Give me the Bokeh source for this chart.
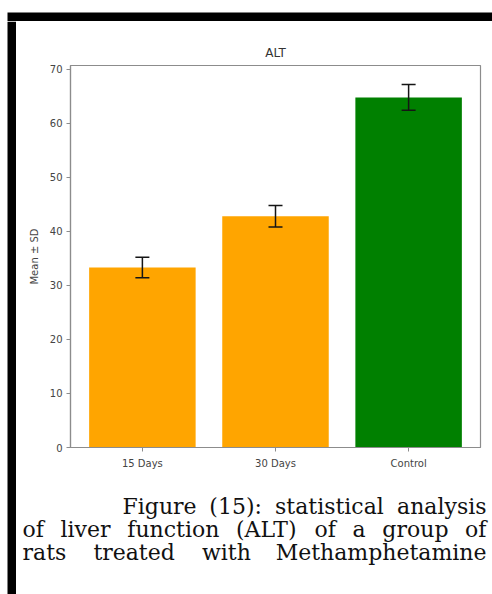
from bokeh.plotting import figure
from bokeh.layouts import column, row
from bokeh.models import (Range1d, FixedTicker, Whisker, TeeHead, ColumnDataSource)
from bokeh.core.properties import value
from bokeh.embed import file_html
from bokeh.resources import INLINE

# ---- data ----
categories = ["15 Days", "30 Days", "Control"]
means = [33.3, 42.8, 64.8]
sds = [1.9, 2.0, 2.4]
bar_colors = ["#FFA500", "#FFA500", "#008000"]
y_ticks = [0, 10, 20, 30, 40, 50, 60, 70]
chart_title = "ALT"
y_label = "Mean \u00b1 SD"
caption_lines = [
    "Figure (15): statistical analysis",
    "of liver function (ALT) of a group of",
    "rats treated with Methamphetamine",
]

# ---- page layout (pixels) ----
W, H = 492, 594
BAND_L0, BAND_L1 = 7, 16      # left black band
BAND_T0, BAND_T1 = 12, 21     # top black band
CHART_BOTTOM = 480            # page y where chart figure ends, caption starts
FL, FR, FT, FB = 70, 480, 65, 447   # chart frame edges in page pixels


def blank(width, height, x0, y0):
    return figure(width=width, height=height, output_backend="svg", toolbar_location=None,
                  x_range=Range1d(x0, x0 + width), y_range=Range1d(y0 + height, y0),
                  x_axis_type=None, y_axis_type=None, min_border=0,
                  outline_line_color=None, background_fill_color="white",
                  border_fill_color="white")


top_strip = blank(W, BAND_T1, 0, 0)
top_strip.quad(left=[BAND_L0], right=[W], top=[BAND_T0], bottom=[BAND_T1],
               fill_color="black", line_color=None)
left_strip = blank(BAND_L1, H - BAND_T1, 0, BAND_T1)
left_strip.quad(left=[BAND_L0], right=[BAND_L1], top=[BAND_T1], bottom=[H],
                fill_color="black", line_color=None)

# ---- chart ----
xs = list(range(len(categories)))
src = ColumnDataSource(dict(
    x=xs, top=means, color=bar_colors,
    lower=[m - s for m, s in zip(means, sds)],
    upper=[m + s for m, s in zip(means, sds)],
))

cw = W - BAND_L1
ch = CHART_BOTTOM - BAND_T1
p = figure(width=cw, height=ch, output_backend="svg", toolbar_location=None,
           x_range=Range1d(-0.54, 2.54), y_range=Range1d(0, 70.7),
           min_border_left=FL - BAND_L1, min_border_right=W - FR,
           min_border_top=FT - BAND_T1, min_border_bottom=CHART_BOTTOM - FB,
           background_fill_color="white", border_fill_color="white")

p.vbar(x="x", top="top", bottom=0, width=0.8, fill_color="color",
       line_color=None, source=src)

ecol = "#151515"
p.add_layout(Whisker(base="x", upper="upper", lower="lower", source=src, level="overlay",
                     upper_head=TeeHead(size=14, line_width=1.5, line_color=ecol),
                     lower_head=TeeHead(size=14, line_width=1.5, line_color=ecol),
                     line_width=1.5, line_color=ecol))

p.title.text = chart_title
p.title.align = "center"
p.title.text_font = "DejaVu Sans"
p.title.text_font_size = "12px"
p.title.text_font_style = "normal"
p.title.text_color = "#333333"
p.title.standoff = 11

gray = "#8c8c8c"
p.outline_line_color = gray
p.outline_line_width = 1.2
p.xgrid.visible = False
p.ygrid.visible = False
for ax in (p.xaxis[0], p.yaxis[0]):
    ax.axis_line_color = gray
    ax.axis_line_width = 1.2
    ax.major_tick_line_color = gray
    ax.major_tick_out = 4
    ax.major_tick_in = 0
    ax.minor_tick_line_color = None
    ax.major_label_text_font = "DejaVu Sans"
    ax.major_label_text_font_size = "10px"
    ax.major_label_text_color = "#444444"

p.yaxis.ticker = FixedTicker(ticks=y_ticks)
p.yaxis.major_label_standoff = 4
p.yaxis.axis_label = y_label
p.yaxis.axis_label_text_font = "DejaVu Sans"
p.yaxis.axis_label_text_font_size = "10px"
p.yaxis.axis_label_text_font_style = "normal"
p.yaxis.axis_label_text_color = "#444444"
p.yaxis.axis_label_standoff = 7

p.xaxis.ticker = FixedTicker(ticks=xs)
p.xaxis.major_label_overrides = {i: c for i, c in zip(xs, categories)}
p.xaxis.major_label_standoff = 6

# ---- caption (justified word by word, page pixel coordinates) ----
cap = blank(cw, H - CHART_BOTTOM, BAND_L1, CHART_BOTTOM)

# DejaVu Serif advance widths (em)
CWID = {"(": 0.390, ")": 0.390, ":": 0.337, "1": 0.636, "5": 0.636,
        "A": 0.722, "F": 0.674, "L": 0.637, "M": 0.920, "T": 0.674,
        "a": 0.596, "c": 0.560, "d": 0.640, "e": 0.592, "f": 0.370, "g": 0.640,
        "h": 0.644, "i": 0.320, "l": 0.320, "m": 0.948, "n": 0.644, "o": 0.602,
        "p": 0.640, "r": 0.478, "s": 0.513, "t": 0.402, "u": 0.644, "v": 0.565,
        "w": 0.856, "y": 0.565}
FS = 22
line_left = [122, 22, 22]
line_right = 486
baselines = [506, 529, 552]

lx_l, ly_l, lt_l, lx_r, ly_r, lt_r = [], [], [], [], [], []
for line, lx, by in zip(caption_lines, line_left, baselines):
    words = line.split(" ")
    widths = [sum(CWID.get(c, 0.6) for c in w) * FS for w in words]
    gap = (line_right - lx - sum(widths)) / (len(words) - 1)
    x = lx
    for i, (w, wd) in enumerate(zip(words, widths)):
        if i == len(words) - 1:
            lx_r.append(line_right); ly_r.append(by); lt_r.append(w)
        else:
            lx_l.append(x); ly_l.append(by); lt_l.append(w)
        x += wd + gap

cap.text(x=lx_l, y=ly_l, text=lt_l, text_align="left", text_baseline="alphabetic",
         text_font=value("DejaVu Serif"), text_font_size=f"{FS}px", text_color="#111111")
cap.text(x=lx_r, y=ly_r, text=lt_r, text_align="right", text_baseline="alphabetic",
         text_font=value("DejaVu Serif"), text_font_size=f"{FS}px", text_color="#111111")

layout = column(top_strip,
                row(left_strip, column(p, row(cap, spacing=0), spacing=0), spacing=0),
                spacing=0)
open("out.html", "w").write(file_html(layout, INLINE))
